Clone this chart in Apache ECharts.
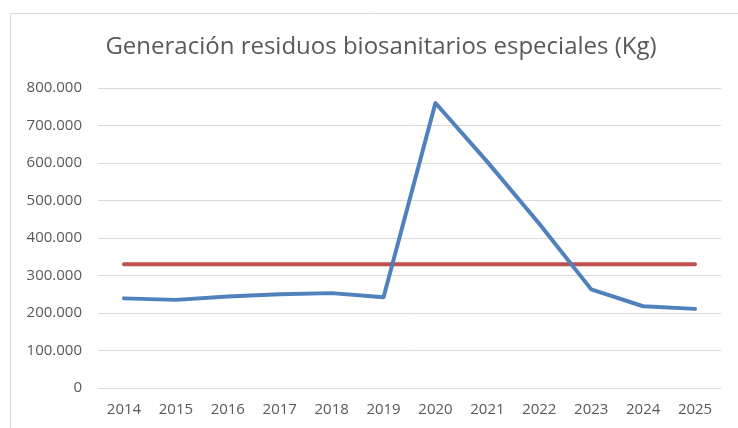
<!DOCTYPE html>
<html>
<head>
<meta charset="utf-8">
<script src="https://cdn.jsdelivr.net/npm/echarts@6/dist/echarts.min.js"></script>
<style>
  html, body { margin: 0; padding: 0; background: #fff; }
  #chart { width: 738px; height: 428px; }
</style>
</head>
<body>
<div id="chart"></div>
<script>
const years = ['2014', '2015', '2016', '2017', '2018', '2019', '2020', '2021', '2022', '2023', '2024', '2025'];
const residuos = [239000, 235000, 244000, 250000, 253000, 242000, 760000, 603000, 438000, 263000, 218000, 211000];
const referencia = [330000, 330000, 330000, 330000, 330000, 330000, 330000, 330000, 330000, 330000, 330000, 330000];

// Spanish thousands separator
const formatKg = (value) => {
    return String(value).replace(/\B(?=(\d{3})+(?!\d))/g, '.');
};

const myChart = echarts.init(document.getElementById('chart'));

const option = {
    animation: false,
    title: {
        text: 'Generación residuos biosanitarios especiales (Kg)',
        left: 376,
        top: 30,
        textAlign: 'center',
        textStyle: {
            fontFamily: 'Open Sans',
            fontSize: 24,
            fontWeight: 'normal',
            color: '#595959'
        }
    },
    graphic: [{
        type: 'rect',
        shape: { x: 10.5, y: 13.5, width: 760, height: 440 },
        style: { fill: 'none', stroke: '#d9d9d9', lineWidth: 1 },
        silent: true
    }],
    grid: {
        left: 98,
        right: 17,
        top: 88,
        bottom: 40
    },
    xAxis: {
        type: 'category',
        data: years,
        boundaryGap: true,
        axisLine: { show: true, lineStyle: { color: '#d9d9d9', width: 1 } },
        axisTick: { show: false },
        axisLabel: {
            color: '#595959',
            fontFamily: 'Open Sans',
            fontSize: 15,
            margin: 14
        }
    },
    yAxis: {
        type: 'value',
        min: 0,
        max: 800000,
        interval: 100000,
        axisLine: { show: false },
        axisTick: { show: false },
        splitLine: { lineStyle: { color: '#d9d9d9', width: 1 } },
        axisLabel: {
            color: '#595959',
            fontFamily: 'Open Sans',
            fontSize: 15,
            margin: 16,
            formatter: (value) => formatKg(value)
        }
    },
    series: [
        {
            name: 'Residuos',
            type: 'line',
            data: residuos,
            symbol: 'none',
            lineStyle: { color: '#4f81bd', width: 4, join: 'round', cap: 'round' },
            itemStyle: { color: '#4f81bd' },
            z: 3
        },
        {
            name: 'Referencia',
            type: 'line',
            data: referencia,
            symbol: 'none',
            lineStyle: { color: '#c0504d', width: 4, cap: 'round' },
            itemStyle: { color: '#c0504d' },
            z: 2
        }
    ]
};

myChart.setOption(option);
</script>
</body>
</html>
